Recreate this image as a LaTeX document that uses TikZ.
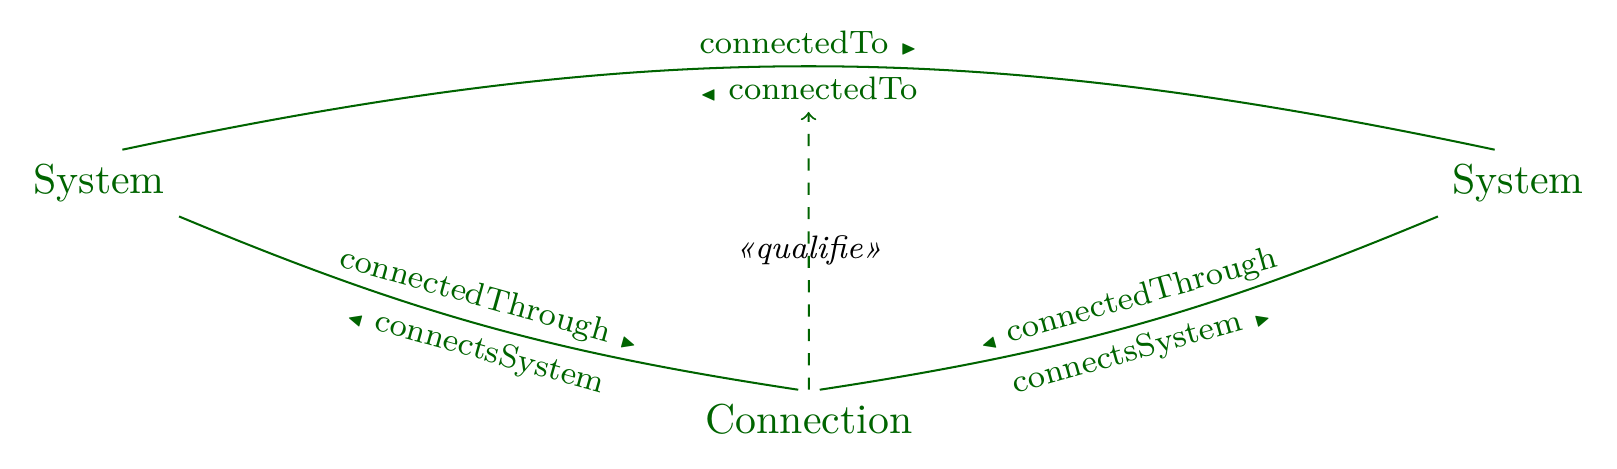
\documentclass[tikz,border=0pt]{standalone}
\usepackage{amssymb}
\usepackage{fontspec}
\usetikzlibrary{positioning}
\definecolor{ontogreen}{RGB}{0,100,0}
\newcommand{\fwdtri}{\scalebox{.8}{$\scriptscriptstyle\blacktriangleright$}}
\newcommand{\bwdtri}{\scalebox{.8}{$\scriptscriptstyle\blacktriangleleft$}}

\begin{document}
\begin{tikzpicture}[
            classnode/.style={text=ontogreen, font=\fontsize{10.3}{12}\selectfont},
            proplabel/.style={text=ontogreen, font=\footnotesize, inner sep=2.4pt, midway},
            rel/.style={draw=ontogreen, line width=0.5pt},
        ]
            \useasboundingbox (0,0) rectangle (14.0,-4.052);
            %Nodes
            \node[classnode](sysL) at (0.857,-1.585) {System};
            \node[classnode](sysR) at (13.143,-1.585) {System};
            \node[classnode](conn) at (7.004,-3.63) {Connection};

            %Lines
            \draw[rel](sysL.55) to [out=12, in=168]
                node[proplabel, above]{connectedTo~\fwdtri}
                node[proplabel, below](toinv){\bwdtri~connectedTo} (sysR.125);
            \draw[rel](sysL.south east) to [bend right=7]
                node[proplabel, above, sloped]{connectedThrough~\fwdtri}
                node[proplabel, below, sloped]{\bwdtri~connectsSystem} (conn.110);
            \draw[rel](conn.70) to [bend right=7]
                node[proplabel, above, sloped]{\bwdtri~connectedThrough}
                node[proplabel, below, sloped]{connectsSystem~\fwdtri} (sysR.south west);
            \draw[rel, dashed, ->](conn) -- (toinv)
                node[midway, font=\footnotesize\itshape]{«qualifie»};
        \end{tikzpicture}
\end{document}
